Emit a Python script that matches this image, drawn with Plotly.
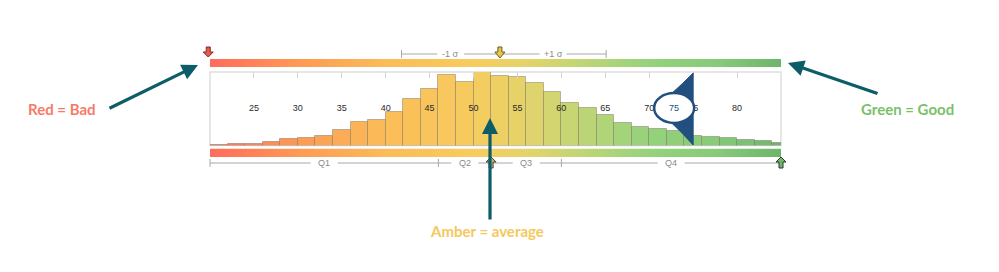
import numpy as np
import plotly.graph_objects as go

# ---------------- data ----------------
bin_starts = list(range(20, 86, 2))  # 20,22,...,84
counts = [0.5, 1.3, 2.0, 3.3, 6.7, 7.7, 10.0, 16.0, 23.7, 25.7, 34.0, 47.0, 57.0,
          71.0, 64.0, 73.3, 69.5, 68.5, 62.7, 54.0, 43.0, 37.7, 31.0, 23.0, 19.0,
          16.7, 14.3, 9.3, 9.0, 7.7, 5.3, 4.7, 2.3]
tick_values = [25, 30, 35, 40, 45, 50, 55, 60, 65, 70, 75, 80]
tick_labels = ["25", "30", "35", "40", "45", "50", "55", "60", "65", "70", "75", "80"]
score_min, score_max = 20, 85
mean_score = 53.0
minus_1sd = 41.8
plus_1sd = 65.1
quartile_edges = [20, 46, 52, 60, 85]
quartile_labels = ["Q1", "Q2", "Q3", "Q4"]
worst_score = 20
best_score = 85
pin_score = 75
pin_label = "75"

# ---------------- layout constants ----------------
W, H = 999, 272
PL, PR = 210, 781          # plot left/right in px
BIN_W = 2
GAP = 13.5                 # half width of the gap around bracket labels (px)

def px_of(v):
    return PL + (v - score_min) / (score_max - score_min) * (PR - PL)

def val_of(px):
    return score_min + (px - PL) / (PR - PL) * (score_max - score_min)

def pxx(px):
    return px / W

def pyy(py):
    return 1 - py / H

colorscale = [
    [0.000, "#ff6b5c"],
    [0.154, "#fd9a55"],
    [0.308, "#fbbc57"],
    [0.462, "#f7cc5f"],
    [0.554, "#e4d36a"],
    [0.646, "#c1d675"],
    [0.769, "#95d27c"],
    [0.892, "#86ca78"],
    [1.000, "#6db56c"],
]

centers = [b + BIN_W / 2 for b in bin_starts]

fig = go.Figure()

# histogram bars
fig.add_trace(go.Bar(
    x=centers, y=counts, width=BIN_W,
    marker=dict(color=centers, colorscale=colorscale, cmin=score_min, cmax=score_max,
                line=dict(color="rgba(120,110,90,0.45)", width=1)),
    xaxis="x", yaxis="y", showlegend=False, hoverinfo="skip"))

# tick labels in middle of the plot
fig.add_trace(go.Scatter(
    x=tick_values, y=[37] * len(tick_values), text=tick_labels, mode="text",
    textfont=dict(family="Liberation Sans, Arial", size=9, color="#2a2a2a"),
    xaxis="x", yaxis="y", showlegend=False, hoverinfo="skip"))

# gradient bars (top and bottom)
gx = np.linspace(score_min, score_max, 131)
for ya in ["y2", "y3"]:
    fig.add_trace(go.Heatmap(
        x=gx, y=[0], z=[gx], colorscale=colorscale, zmin=score_min, zmax=score_max,
        zsmooth="best", showscale=False, xaxis="x", yaxis=ya, hoverinfo="skip"))

shapes = []
annotations = []

# plot box
shapes.append(dict(type="rect", xref="x domain", yref="y domain", x0=0, x1=1, y0=0, y1=1,
                   line=dict(color="#dedede", width=1.5), layer="below"))

# pin marker
navy = "#21507f"
tip_x = pin_score
left_x = val_of(px_of(pin_score) - 40)
shapes.append(dict(type="path", xref="x", yref="y",
                   path=f"M {tip_x},72.5 Q {val_of(px_of(pin_score) - 22)},50 {left_x},37.5 "
                        f"Q {val_of(px_of(pin_score) - 22)},25 {tip_x},0.5 Z",
                   fillcolor=navy, line=dict(color=navy, width=1), layer="above"))
ecx = px_of(pin_score) - 19
shapes.append(dict(type="circle", xref="x", yref="y",
                   x0=val_of(ecx - 20), x1=val_of(ecx + 20), y0=22.5, y1=52.5,
                   fillcolor="white", line=dict(color=navy, width=2.5), layer="above"))
annotations.append(dict(x=val_of(ecx), y=37, xref="x", yref="y", text=pin_label,
                        showarrow=False, font=dict(family="Liberation Sans, Arial", size=9, color=navy)))

grey = "#a8a8a8"
lab_font = dict(family="Liberation Sans, Arial", size=9, color="#8a8a8a")


def bracket(lo, hi, label_pos, y_py, ticks):
    """horizontal line from lo..hi (values) with gaps around label positions"""
    cuts = [lo]
    for p in sorted(label_pos):
        cuts += [val_of(px_of(p) - GAP), val_of(px_of(p) + GAP)]
    cuts.append(hi)
    y = pyy(y_py)
    for a, b in zip(cuts[0::2], cuts[1::2]):
        shapes.append(dict(type="line", xref="paper", yref="paper", x0=pxx(px_of(a)), x1=pxx(px_of(b)),
                           y0=y, y1=y, line=dict(color=grey, width=1)))
    for v in ticks:
        shapes.append(dict(type="line", xref="paper", yref="paper", x0=pxx(px_of(v)), x1=pxx(px_of(v)),
                           y0=pyy(y_py - 4), y1=pyy(y_py + 4), line=dict(color=grey, width=1)))


# sigma bracket
sig_lab_pos = [(minus_1sd + mean_score) / 2, (plus_1sd + mean_score) / 2]
bracket(minus_1sd, plus_1sd, sig_lab_pos, 54, [minus_1sd, plus_1sd])
for txt, v in zip(["-1 σ", "+1 σ"], sig_lab_pos):
    annotations.append(dict(x=pxx(px_of(v)), y=pyy(54), xref="paper", yref="paper", text=txt,
                            showarrow=False, xanchor="center", yanchor="middle", font=lab_font))

# quartile bracket
q_mid = [(quartile_edges[i] + quartile_edges[i + 1]) / 2 for i in range(4)]
bracket(quartile_edges[0], quartile_edges[-1], q_mid, 163,
        [quartile_edges[0], quartile_edges[1], quartile_edges[3]])
for lab, v in zip(quartile_labels, q_mid):
    annotations.append(dict(x=pxx(px_of(v)), y=pyy(163), xref="paper", yref="paper", text=lab,
                            showarrow=False, xanchor="center", yanchor="middle", font=lab_font))


def block_arrow(v, top, bot, down, fill, edge):
    cx = px_of(v)
    if down:
        pts = [(cx - 2, top), (cx + 2, top), (cx + 2, top + 5), (cx + 5, top + 5), (cx, bot),
               (cx - 5, top + 5), (cx - 2, top + 5)]
    else:
        pts = [(cx, top), (cx + 5, top + 5), (cx + 2, top + 5), (cx + 2, bot), (cx - 2, bot),
               (cx - 2, top + 5), (cx - 5, top + 5)]
    path = "M " + " L ".join(f"{pxx(a)},{pyy(b)}" for a, b in pts) + " Z"
    return dict(type="path", xref="paper", yref="paper", path=path, fillcolor=fill,
                line=dict(color=edge, width=1))


shapes.append(block_arrow(worst_score - 0.2, 47, 57, True, "#e9594b", "#7a2a20"))
shapes.append(block_arrow(mean_score, 47, 58, True, "#eac54c", "#6b5a20"))
shapes.append(block_arrow(quartile_edges[2], 157, 168, False, "#c9b26a", "#444444"))
shapes.append(block_arrow(best_score, 157, 168, False, "#6cb86a", "#333333"))

# explanatory labels and teal arrows
teal = "#0d5d68"
lbl_font = "Lato, Noto Sans, sans-serif"
for txt, cx, cy, col in [("Red = Bad", 62, 109, "#f77a68"),
                         ("Green = Good", 907, 109, "#7cbf6a"),
                         ("Amber = average", 487, 231, "#f5c85e")]:
    annotations.append(dict(x=pxx(cx), y=pyy(cy), xref="paper", yref="paper", text=f"<b>{txt}</b>",
                            showarrow=False, xanchor="center", yanchor="middle",
                            font=dict(family=lbl_font, size=15, color=col)))

for hx, hy, tx, ty in [(198, 65, 108, 109), (788, 63, 879, 94), (490, 118, 490, 221)]:
    annotations.append(dict(x=pxx(hx), y=pyy(hy), xref="paper", yref="paper", text="",
                            showarrow=True, ax=tx - hx, ay=ty - hy, axref="pixel", ayref="pixel",
                            arrowhead=2, arrowsize=1, arrowwidth=3.2, arrowcolor=teal,
                            standoff=0, startstandoff=0))

fig.update_layout(
    width=W, height=H, margin=dict(l=0, r=0, t=0, b=0),
    paper_bgcolor="white", plot_bgcolor="white",
    bargap=0, showlegend=False,
    xaxis=dict(domain=[pxx(PL), pxx(PR)], range=[score_min, score_max], anchor="y", side="top",
               tickvals=tick_values, ticks="inside", ticklen=6, tickcolor="#d5d5d5",
               showticklabels=False, showgrid=False, zeroline=False, showline=False, fixedrange=True),
    yaxis=dict(domain=[pyy(145.5), pyy(72)], range=[0, 73.5], visible=False, fixedrange=True),
    yaxis2=dict(domain=[pyy(67), pyy(59)], visible=False, fixedrange=True),
    yaxis3=dict(domain=[pyy(157), pyy(148.5)], visible=False, fixedrange=True),
    shapes=shapes, annotations=annotations,
)

fig.write_html("out.html")
